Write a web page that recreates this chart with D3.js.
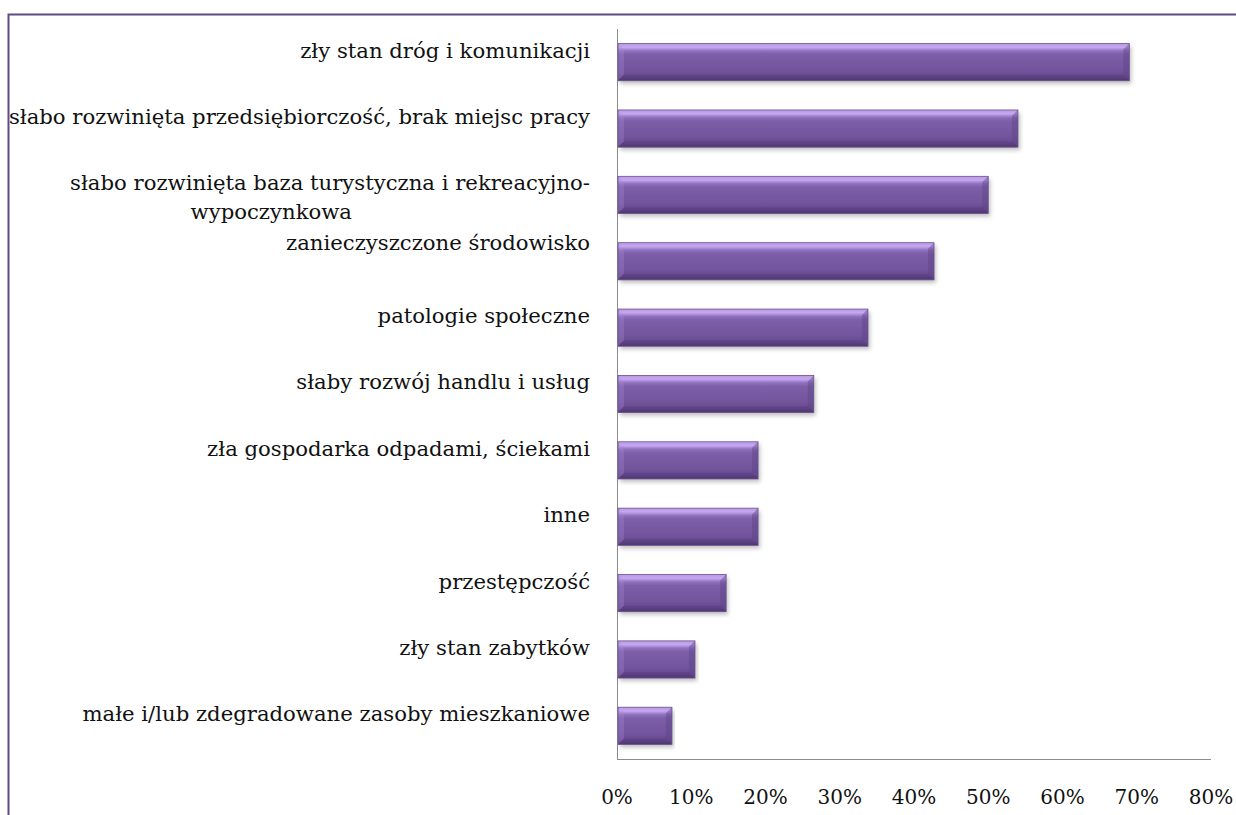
<!DOCTYPE html>
<html><head><meta charset="utf-8">
<script src="https://cdn.jsdelivr.net/npm/d3@7"></script>
<style>body{margin:0;background:#fff}svg{display:block}</style>
</head><body>
<svg id="c" width="1236" height="815"></svg>
<script>
const categories = [
  "zły stan dróg i komunikacji",
  "słabo rozwinięta przedsiębiorczość, brak miejsc pracy",
  "słabo rozwinięta baza turystyczna i rekreacyjno-|wypoczynkowa",
  "zanieczyszczone środowisko",
  "patologie społeczne",
  "słaby rozwój handlu i usług",
  "zła gospodarka odpadami, ściekami",
  "inne",
  "przestępczość",
  "zły stan zabytków",
  "małe i/lub zdegradowane zasoby mieszkaniowe"
];
const values = [0.69, 0.54, 0.50, 0.427, 0.338, 0.265, 0.19, 0.19, 0.147, 0.105, 0.074];
const tickValues = [0, 0.1, 0.2, 0.3, 0.4, 0.5, 0.6, 0.7, 0.8];

(function () {
const svg = d3.select("#c");
const font = "'DejaVu Serif', serif";
const pL = 617, pR = 1211, pT = 29, pB = 759;

// frame
svg.append("rect").attr("x", 8.5).attr("y", 14.5).attr("width", 1300).attr("height", 900)
  .attr("fill", "none").attr("stroke", "#5f4b85").attr("stroke-width", 2);

const x = d3.scaleLinear().domain([0, 0.8]).range([pL, pR]);
const y = d3.scaleBand().domain(categories).range([pT, pB]).paddingInner(0.44).paddingOuter(0.22);

const defs = svg.append("defs");
const g1 = defs.append("linearGradient").attr("id", "bar").attr("x1", 0).attr("y1", 0).attr("x2", 0).attr("y2", 1);
[[0, "#b89ae2"], [0.1, "#c6a8f2"], [0.2, "#8f70bd"], [0.3, "#7c5ea8"], [0.7, "#72559d"], [0.88, "#674b90"], [1, "#54396f"]]
  .forEach(([o, c]) => g1.append("stop").attr("offset", o).attr("stop-color", c));
const f = defs.append("filter").attr("id", "sh").attr("x", -0.05).attr("y", -0.2).attr("width", 1.1).attr("height", 1.6);
f.append("feDropShadow").attr("dx", 2).attr("dy", 3).attr("stdDeviation", 2).attr("flood-color", "#000").attr("flood-opacity", 0.25);

// axes lines
svg.append("line").attr("x1", pL + 0.5).attr("x2", pL + 0.5).attr("y1", pT).attr("y2", pB).attr("stroke", "#8c8c8c");
svg.append("line").attr("x1", pL).attr("x2", pR).attr("y1", pB + 0.5).attr("y2", pB + 0.5).attr("stroke", "#8c8c8c");

// bars
const bars = svg.append("g").selectAll("g").data(categories).join("g");
bars.each(function(c, i) {
  const g = d3.select(this);
  const x0 = x(0) + 1, x1 = x(values[i]);
  const y0 = y(c), h = y.bandwidth(), w = x1 - x0;
  const b = 6;
  g.append("rect").attr("x", x0).attr("y", y0).attr("width", w).attr("height", h)
    .attr("fill", "url(#bar)").attr("filter", "url(#sh)");
  g.append("polygon").attr("points", [[x1, y0], [x1 - b, y0 + b], [x1 - b, y0 + h - b], [x1, y0 + h]].join(" "))
    .attr("fill", "#5e4488").attr("opacity", 0.45);
  g.append("polygon").attr("points", [[x0, y0], [x0 + b, y0 + b], [x0 + b, y0 + h - b], [x0, y0 + h]].join(" "))
    .attr("fill", "#a88ad6").attr("opacity", 0.3);
  g.append("polygon").attr("points", [[x0, y0 + h], [x0 + b, y0 + h - b], [x1 - b, y0 + h - b], [x1, y0 + h]].join(" "))
    .attr("fill", "#4a3270").attr("opacity", 0.3);
  g.append("rect").attr("x", x0).attr("y", y0).attr("width", w).attr("height", h)
    .attr("fill", "none").attr("stroke", "#6a5290").attr("stroke-width", 0.8);
});

// category labels
const lab = svg.append("g").attr("font-family", font).attr("font-size", 21.2).attr("fill", "#111").attr("text-anchor", "end");
categories.forEach((c, i) => {
  const parts = c.split("|");
  const prevWrapped = i > 0 && categories[i - 1].includes("|");
  const cy = y(c) + y.bandwidth() / 2 - 12 - (prevWrapped ? 7 : 0);
  const t = lab.append("text").attr("x", 590);
  if (parts.length === 1) {
    t.attr("y", cy).attr("dy", "0.35em").text(c);
  } else {
    t.append("tspan").attr("x", 590).attr("y", cy).attr("dy", "0.35em").text(parts[0]);
    t.append("tspan").attr("x", 352).attr("y", cy + 29).attr("dy", "0.35em").text(parts[1]);
  }
});

// x tick labels
const ax = svg.append("g").attr("font-family", font).attr("font-size", 20).attr("fill", "#111").attr("text-anchor", "middle");
tickValues.forEach(v => {
  ax.append("text").attr("x", x(v)).attr("y", 797).attr("dy", "0.35em").text(d3.format(".0%")(v));
});
})();
</script>
</body></html>
